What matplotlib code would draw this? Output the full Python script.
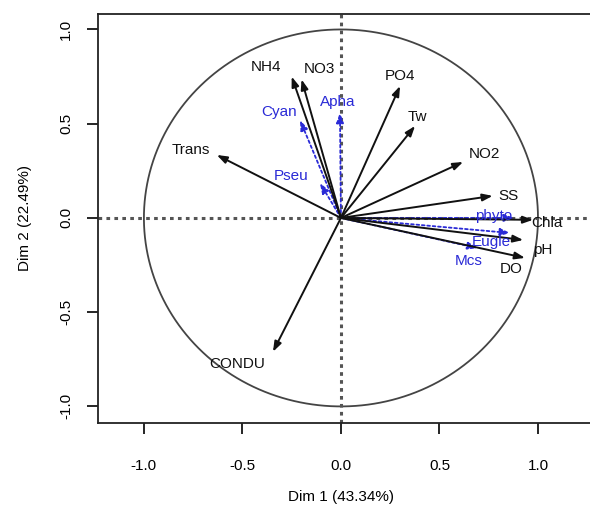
import matplotlib
matplotlib.use("Agg")
import matplotlib.pyplot as plt
import numpy as np

plt.rcParams['font.family'] = ['Liberation Sans', 'DejaVu Sans']
plt.rcParams['axes.unicode_minus'] = False

# active variables (coordinates on Dim 1 / Dim 2)
active_names = ["Trans", "NH4", "NO3", "PO4", "Tw", "NO2", "SS", "Chla", "pH", "DO", "CONDU"]
active_dim1 = [-0.63, -0.25, -0.20, 0.30, 0.376, 0.62, 0.77, 0.975, 0.925, 0.934, -0.345]
active_dim2 = [0.334, 0.75, 0.735, 0.70, 0.488, 0.297, 0.117, -0.01, -0.117, -0.212, -0.71]

# supplementary variables (blue, dashed)
sup_names = ["Cyan", "Apha", "Pseu", "phyto", "Eugle", "Mcs"]
sup_dim1 = [-0.208, -0.005, -0.107, 0.88, 0.86, 0.695]
sup_dim2 = [0.52, 0.56, 0.186, 0.0, -0.08, -0.16]

ticks = [-1.0, -0.5, 0.0, 0.5, 1.0]
tick_labels = ["-1.0", "-0.5", "0.0", "0.5", "1.0"]
xlab = "Dim 1 (43.34%)"
ylab = "Dim 2 (22.49%)"

# label offsets in pixels (dx right, dy down) relative to arrow tips
active_off = {"Trans": (-26, -5), "NH4": (-26, -10), "NO3": (18, -10), "PO4": (0, -10),
              "Tw": (2, -9), "NO2": (21, -8), "SS": (16, 0), "Chla": (14, 3),
              "pH": (20, 10), "DO": (-14, 11), "CONDU": (-36, 12)}
sup_off = {"Cyan": (-21, -8), "Apha": (-2, -10), "Pseu": (-29, -7),
           "phyto": (-21, -2), "Eugle": (-19, 9), "Mcs": (-9, 13)}

W, H = 590, 507
fig = plt.figure(figsize=(W / 100, H / 100), dpi=100)
ax = fig.add_axes([98 / W, 84 / H, 492 / W, 409 / H])
ax.set_xlim(-1.233, 1.264)
ax.set_ylim(-1.088, 1.082)

# unit circle
t = np.linspace(0, 2 * np.pi, 400)
ax.plot(np.cos(t), np.sin(t), color='#444444', lw=1.3, zorder=1)

# dotted axes through origin
dot = (0, (1.2, 1.4))
ax.axhline(0, color='#555555', lw=2.2, ls=dot, zorder=1)
ax.axvline(0, color='#555555', lw=2.2, ls=dot, zorder=1)

blue = '#2a2ad6'

for name, x, y in zip(sup_names, sup_dim1, sup_dim2):
    ax.annotate("", xy=(x, y), xytext=(0, 0),
                arrowprops=dict(arrowstyle='-|>,head_length=0.5,head_width=0.18',
                                color=blue, lw=1.3, ls=(0, (1.5, 1.5)),
                                shrinkA=0, shrinkB=0, mutation_scale=12), zorder=2)
    dx, dy = sup_off[name]
    ax.annotate(name, xy=(x, y), xytext=(dx, -dy), textcoords='offset pixels',
                ha='center', va='center', color=blue, fontsize=11, zorder=4)

for name, x, y in zip(active_names, active_dim1, active_dim2):
    ax.annotate("", xy=(x, y), xytext=(0, 0),
                arrowprops=dict(arrowstyle='-|>,head_length=0.5,head_width=0.18',
                                color='#111111', lw=1.4,
                                shrinkA=0, shrinkB=0, mutation_scale=12), zorder=3)
    dx, dy = active_off[name]
    ax.annotate(name, xy=(x, y), xytext=(dx, -dy), textcoords='offset pixels',
                ha='center', va='center', color='#111111', fontsize=11, zorder=4)

ax.spines['right'].set_visible(False)
for s in ['left', 'bottom', 'top']:
    ax.spines[s].set_linewidth(1.3)
    ax.spines[s].set_color('#222222')

ax.set_xticks(ticks)
ax.set_xticklabels(tick_labels, fontsize=11)
ax.set_yticks(ticks)
ax.set_yticklabels(tick_labels, fontsize=11, rotation=90, va='center')
ax.tick_params(axis='x', length=8, width=1.2, pad=18)
ax.tick_params(axis='y', length=8, width=1.2, pad=10)

fig.text(341 / W, 1 - 497 / H, xlab, ha='center', va='center', fontsize=11)
fig.text(25 / W, 1 - 218 / H, ylab, ha='center', va='center', fontsize=11, rotation=90)

fig.savefig("out.png", dpi=100)
